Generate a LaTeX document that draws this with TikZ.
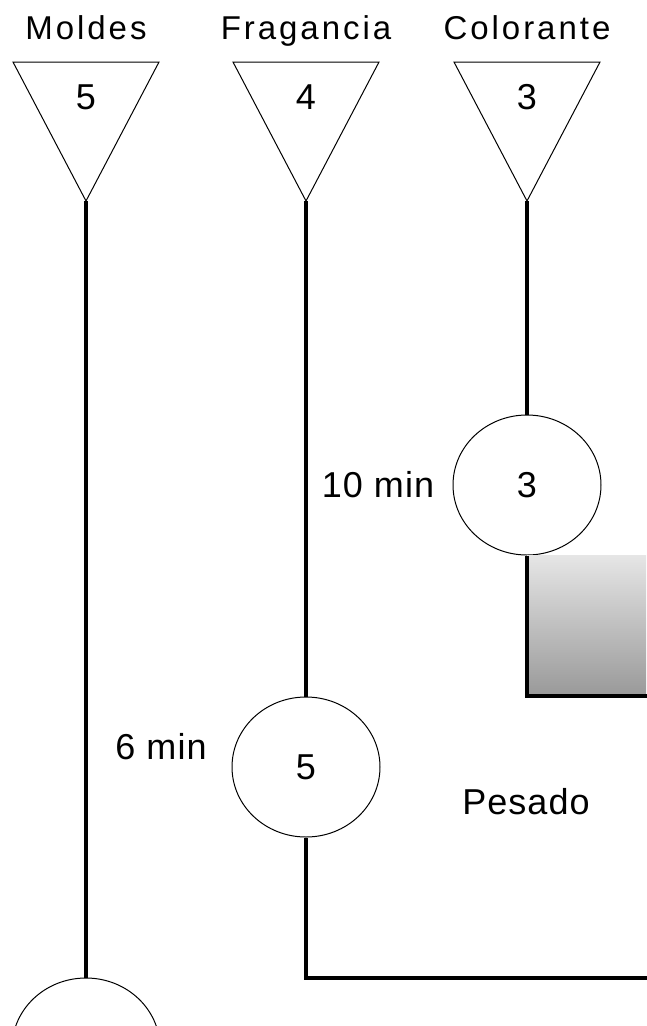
\documentclass[tikz,border=0pt]{standalone}
\usepackage{fontspec}
\setmainfont{Liberation Sans}
\newfontfamily\headfont{Liberation Sans}[LetterSpace=9]
\newfontfamily\tagfont{Liberation Sans}[LetterSpace=3]
\usepackage{tikz}
\tikzset{x=1pt,y=-1pt}
\usetikzlibrary{shapes.geometric, positioning}
\def\hdsize{\fontsize{33}{38}\selectfont}
\def\tgsize{\fontsize{36}{42}\selectfont}

\begin{document}
\begin{tikzpicture}[
    flow/.style={line width=3.4pt},
    stock/.style={draw, line width=1pt},
    oper/.style={ellipse, draw, line width=1pt, inner sep=0pt,
      minimum width=148pt, minimum height=140pt, font=\tagfont\tgsize},
    head/.style={inner sep=0pt, anchor=base, font=\headfont\hdsize},
    tag/.style={inner sep=0pt, anchor=base, font=\tagfont\tgsize}]
  \useasboundingbox (0,0) rectangle (646,1026);
  % storage triangles with their headings
  \foreach \nm/\x/\n/\txt in {mol/86/5/Moldes, fra/306/4/Fragancia, col/527/3/Colorante}{
    \node[head] (\nm head) at (\x,39) {\txt};
    \draw[stock] (\x-73,62) -- (\x+73,62) -- (\x,201) -- cycle;
    \node[tag] (\nm num) at (\x,109) {\n};
    \coordinate (\nm) at (\x,201);
  }
  % operations
  \node[oper] (op3) at (527,485) {3};
  \node[oper] (op5) at (306,767) {5};
  \node[oper] (op6) at (86,1048) {};
  \node[tag] (t3) at (378,497) {10 min};
  \node[tag] (t5) at (161,759) {6 min};
  \node[tag] (pes) at (526,814) {Pesado};
  % weighing block
  \shade[top color=black!10, bottom color=black!40] (op3.south) rectangle (646,696);
  \coordinate (out3) at (650,696);
  \coordinate (out5) at (650,978);
  % flow lines
  \draw[flow] (col) -- (op3);
  \draw[flow] (op3.south) |- (out3);
  \draw[flow] (fra) -- (op5);
  \draw[flow] (op5.south) |- (out5);
  \draw[flow] (mol) -- (op6);
\end{tikzpicture}
\end{document}
